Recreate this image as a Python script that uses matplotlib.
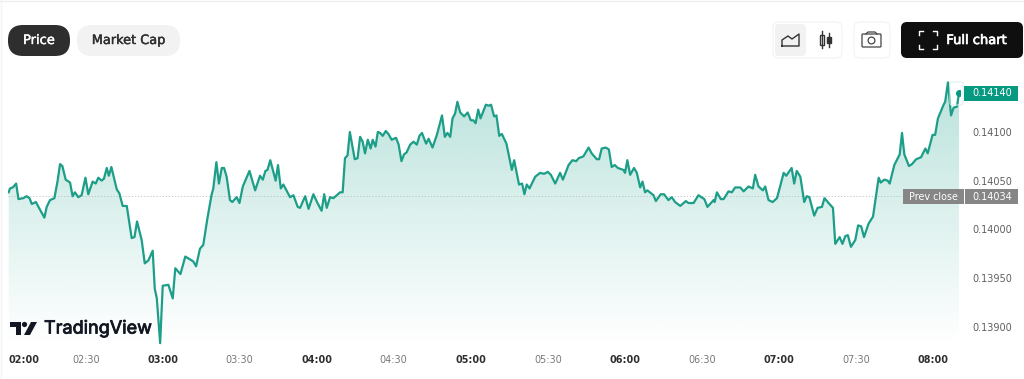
import numpy as np
import matplotlib
matplotlib.use('Agg')
import matplotlib.pyplot as plt
import matplotlib.patheffects as pe
from matplotlib.patches import FancyBboxPatch, Polygon, Circle, Rectangle

# minutes after 02:00 and the price
minutes = [
    0, 0.5, 1.6, 2.9, 3.8, 5.7, 7, 8.1, 9, 10.6, 11.6, 13.9, 14.8, 16.1, 17.8, 19, 20, 20.9, 22.2, 23.9,
    24.9, 25.8, 27.1, 28.4, 29.9, 31, 32.7, 33.9, 34.9, 36.2, 37.1, 38.2, 39, 40, 42.1, 43.1, 44.4, 46, 47.9, 49,
    50, 51.8, 53, 54.4, 56.1, 56.9, 57.7, 59, 60, 62.2, 63.9, 64.9, 66.9, 68.8, 71.9, 73, 74.5, 75.8, 77.4, 79,
    79.7, 80.9, 81.9, 83, 83.9, 84.9, 86.2, 87.1, 88.8, 89.9, 91.2, 93.8, 96, 97.9, 99, 100, 100.8, 101.9, 104, 104.9,
    106, 107, 109.6, 110.9, 112.6, 113.5, 115.5, 116.8, 118.7, 120.3, 121.9, 122.9, 123.9, 125.2, 126.5, 129.1, 130.1, 131, 132, 132.9,
    134.8, 135.9, 136.9, 137.9, 138.8, 139.9, 141, 141.8, 142.9, 143.8, 144.7, 145.7, 146.9, 147.9, 149.2, 150.9, 151.9, 153, 154, 155,
    156.4, 157.7, 159, 160, 161, 162.6, 163.6, 165.1, 166.8, 168.8, 169.9, 170.9, 172, 172.9, 173.9, 174.8, 175.9, 177.4, 178.8, 180,
    181, 181.9, 182.9, 183.8, 185.9, 187, 187.9, 189.1, 190, 191.1, 192.1, 193.9, 195.2, 196, 196.9, 198.8, 200, 200.9, 201.8, 202.9,
    205.1, 207, 208.6, 210, 211.2, 212.9, 214.8, 215.9, 218.1, 219.6, 221.1, 222, 223.9, 225.9, 227.1, 229.1, 230, 231, 232.6, 233.8,
    234.9, 236.1, 237.3, 239.5, 240.1, 241, 242.1, 243.6, 244.7, 246, 246.9, 247.9, 248.8, 251.2, 252.1, 254, 255.3, 257, 258.3, 259.6,
    261.6, 263.8, 264.8, 266.8, 268.7, 271, 272.2, 274.6, 275, 275.9, 277.4, 278.5, 280.4, 281.7, 283, 285, 286.3, 288.2, 289.9, 290.8,
    292.1, 293.8, 294.7, 296, 297.6, 299.3, 301.9, 302.9, 305, 306, 307, 308.4, 309.9, 310.9, 311.9, 313.8, 315.1, 316.8, 317.8, 319.4,
    321.1, 322, 323.7, 324.8, 325.9, 326.9, 328.1, 329.8, 330.9, 332.1, 333.2, 335, 336.7, 338.9, 339.7, 341.1, 342.4, 343.2, 345, 347.1,
    348, 348.9, 350.7, 351.9, 353.5, 355.4, 357.1, 358, 359.9, 360.9, 362, 364.2, 364.8, 365.9, 367.1, 368.1, 369.4, 370.2,
]
prices = [
    .14038, .14042, .14043, .14047, .14031, .14032, .14034, .14032, .14026, .14028, .14023, .14012, .14023, .14030, .14032, .14049, .14067, .14065, .14051, .14048,
    .14034, .14038, .14033, .14035, .14053, .14036, .14049, .14047, .14053, .14050, .14052, .14063, .14055, .14064, .14041, .14037, .14024, .14024, .13991, .13992,
    .14008, .13989, .13965, .13968, .13978, .13939, .13929, .13883, .13942, .13943, .13929, .13960, .13954, .13972, .13967, .13962, .13980, .13984, .14011, .14035,
    .14042, .14069, .14047, .14063, .14063, .14054, .14030, .14028, .14033, .14027, .14044, .14060, .14040, .14055, .14051, .14060, .14061, .14071, .14050, .14066,
    .14042, .14046, .14033, .14035, .14023, .14022, .14034, .14021, .14036, .14027, .14019, .14036, .14022, .14033, .14032, .14038, .14038, .14073, .14076, .14100,
    .14072, .14073, .14095, .14090, .14078, .14092, .14083, .14092, .14085, .14100, .14099, .14096, .14101, .14098, .14092, .14094, .14087, .14070, .14077, .14079,
    .14087, .14090, .14087, .14096, .14099, .14088, .14093, .14084, .14097, .14117, .14095, .14099, .14095, .14114, .14119, .14131, .14120, .14116, .14120, .14112,
    .14112, .14109, .14123, .14114, .14128, .14127, .14128, .14116, .14117, .14096, .14098, .14088, .14071, .14061, .14071, .14046, .14047, .14036, .14046, .14042,
    .14054, .14058, .14057, .14059, .14056, .14047, .14058, .14051, .14066, .14071, .14070, .14073, .14075, .14084, .14078, .14072, .14072, .14083, .14084, .14082,
    .14064, .14066, .14063, .14061, .14058, .14071, .14056, .14063, .14058, .14043, .14049, .14038, .14040, .14035, .14029, .14036, .14036, .14030, .14033, .14028,
    .14024, .14029, .14027, .14027, .14035, .14031, .14023, .14030, .14028, .14038, .14031, .14031, .14039, .14038, .14043, .14043, .14039, .14044, .14042, .14056,
    .14044, .14040, .14044, .14030, .14028, .14032, .14058, .14055, .14063, .14047, .14060, .14054, .14028, .14034, .14033, .14014, .14022, .14023, .14032, .14027,
    .14022, .13985, .13992, .13985, .13993, .13994, .13982, .13989, .14004, .14003, .13992, .14006, .14013, .14053, .14048, .14051, .14050, .14047, .14066, .14077,
    .14099, .14077, .14065, .14067, .14072, .14074, .14083, .14078, .14097, .14097, .14114, .14128, .14131, .14151, .14117, .14125, .14126, .14140,
]

x_ticks = [0, 30, 60, 90, 120, 150, 180, 210, 240, 270, 300, 330, 360]
x_labels = ['02:00', '02:30', '03:00', '03:30', '04:00', '04:30', '05:00', '05:30', '06:00', '06:30', '07:00', '07:30', '08:00']
y_ticks = [0.139, 0.1395, 0.14, 0.1405, 0.141]
y_labels = ['0.13900', '0.13950', '0.14000', '0.14050', '0.14100']
prev_close = 0.14034
last_price = 0.14140

GREEN = '#089981'
LINE = '#1c9e88'

fig = plt.figure(figsize=(10.24, 3.79), dpi=100)
plt.rcParams['font.family'] = 'DejaVu Sans'

# chart area runs from x=8..960 and y=80..345 in picture pixels
ax = fig.add_axes([8 / 1024, 1 - 345 / 379, 952 / 1024, 265 / 379])
ax.set_xlim((8 - 8.7) / 2.567, (960 - 8.7) / 2.567)
ax.set_ylim(0.14 + (229.3 - 345) / 97330, 0.14 + (229.3 - 80) / 97330)
for spine in ax.spines.values():
    spine.set_visible(False)

# area gradient, clipped to the area under the line
ymin, ymax = ax.get_ylim()
fill = ax.fill_between(minutes, prices, ymin, color='none')
grad = np.zeros((256, 1, 4))
grad[..., :3] = matplotlib.colors.to_rgb(GREEN)
grad[..., 3] = np.linspace(0.28, 0, 256)[:, None]
im = ax.imshow(grad, extent=[ax.get_xlim()[0], ax.get_xlim()[1], ymin, ymax], aspect='auto', origin='upper', zorder=1)
im.set_clip_path(fill.get_paths()[0], transform=ax.transData)
ax.set_xlim((8 - 8.7) / 2.567, (960 - 8.7) / 2.567)
ax.set_ylim(ymin, ymax)

ax.axhline(prev_close, color='#bdbdbd', lw=0.6, ls=(0, (1.5, 2.2)), zorder=2)
ax.plot(minutes, prices, color=LINE, lw=1.6, solid_joinstyle='round', zorder=3)
ax.plot([minutes[-1]], [last_price], 'o', color=GREEN, ms=4, zorder=4)

ax.set_xticks(x_ticks, x_labels)
ax.yaxis.tick_right()
ax.set_yticks(y_ticks, y_labels)
ax.tick_params(axis='x', length=0, pad=7.5, labelsize=6.9, labelcolor='#777777')
ax.tick_params(axis='y', length=0, pad=9, labelsize=7, labelcolor='#5f5f5f')
for i, label in enumerate(ax.get_xticklabels()):
    if x_ticks[i] % 60 == 0:
        label.set_fontweight('bold')
        label.set_color('#2e2e2e')
ax.get_xticklabels()[0].set_ha('left')

# page furniture, in picture pixels
ui = fig.add_axes([0, 0, 1, 1], zorder=5)
ui.set_xlim(0, 1024)
ui.set_ylim(379, 0)
ui.axis('off')


def button(x0, y0, x1, y1, radius, face, edge='none'):
    ui.add_patch(FancyBboxPatch((x0 + radius, y0 + radius), x1 - x0 - 2 * radius, y1 - y0 - 2 * radius,
                                boxstyle=f'round,pad={radius}', fc=face, ec=edge, lw=0.8))


def heavy(text, color, width=0.3):
    text.set_path_effects([pe.withStroke(linewidth=width, foreground=color)])


ui.plot([0, 1024], [0.5, 0.5], color='#eeeeee', lw=1)
ui.plot([0.5, 0.5], [0, 379], color='#f4f4f4', lw=1)

button(8, 25, 70, 56, 15, '#2e2e2e')
heavy(ui.text(39, 40.5, 'Price', color='white', fontsize=9.4, ha='center', va='center'), 'white')
button(77, 25, 180, 56, 15, '#f2f2f2')
heavy(ui.text(128.5, 40.5, 'Market Cap', color='#2e2e2e', fontsize=9.3, ha='center', va='center'), '#2e2e2e')

# chart type and camera buttons
button(773, 22, 842, 58, 6, 'white', '#f3f3f3')
button(775, 24, 806, 56, 4, '#f2f2f2')
ui.plot([782, 782, 788, 792, 799, 799, 782], [46, 40, 36, 39, 34, 46, 46], color='#333333', lw=1)
ui.plot([821.7, 821.7], [31, 48], color='#333333', lw=1)
ui.add_patch(Rectangle((819.5, 35), 4.4, 10, fc='white', ec='#333333', lw=1))
ui.plot([829, 829], [33, 47], color='#333333', lw=1)
ui.add_patch(Rectangle((827, 37), 4, 6, fc='#333333', ec='#333333', lw=1))
button(854, 22, 890, 58, 6, 'white', '#f3f3f3')
ui.add_patch(FancyBboxPatch((863, 35), 17, 11, boxstyle='round,pad=1', fc='white', ec='#444444', lw=0.9))
ui.plot([866, 868, 875, 877], [34, 32, 32, 34], color='#444444', lw=0.9)
ui.add_patch(Circle((871.5, 40.5), 3.4, fc='white', ec='#444444', lw=0.9))

button(901, 22, 1023, 58, 6, '#0f0f0f')
for sx, cx in [(1, 919), (-1, 937)]:
    for sy, cy in [(1, 31), (-1, 49)]:
        ui.plot([cx, cx, cx + 4 * sx], [cy + 4 * sy, cy, cy], color='white', lw=1)
heavy(ui.text(976.5, 40.5, 'Full chart', color='white', fontsize=9.4, ha='center', va='center'), 'white', 0.5)

# watermark
ui.add_patch(Polygon([(10, 322), (21, 322), (21, 335), (15.5, 335), (15.5, 327), (10, 327)], fc='#131722', ec='none'))
ui.add_patch(Circle((24.5, 324.5), 2.6, fc='#131722', ec='none'))
ui.add_patch(Polygon([(31, 322), (37, 322), (30, 335), (24, 335)], fc='#131722', ec='none'))
heavy(ui.text(44, 329, 'TradingView', color='#131722', fontsize=13, family='Inter', ha='left', va='center'), '#131722', 0.6)

# price tags
ui.add_patch(Rectangle((964, 86), 54, 15, fc=GREEN, ec='none'))
ui.text(992, 93.5, '0.14140', color='white', fontsize=7, ha='center', va='center')
ui.add_patch(Rectangle((903, 189), 115, 15, fc='#868686', ec='none'))
ui.plot([963.5, 963.5], [189, 204], color='white', lw=0.7)
ui.text(933, 196.5, 'Prev close', color='white', fontsize=6.9, ha='center', va='center')
ui.text(992, 196.5, '0.14034', color='white', fontsize=7, ha='center', va='center')
ui.add_patch(FancyBboxPatch((952, 84), 9, 19, boxstyle='round,pad=2', fc='none', ec='#dcefeb', lw=0.7, zorder=0))

plt.savefig('out.png', dpi=100)
plt.close(fig)
